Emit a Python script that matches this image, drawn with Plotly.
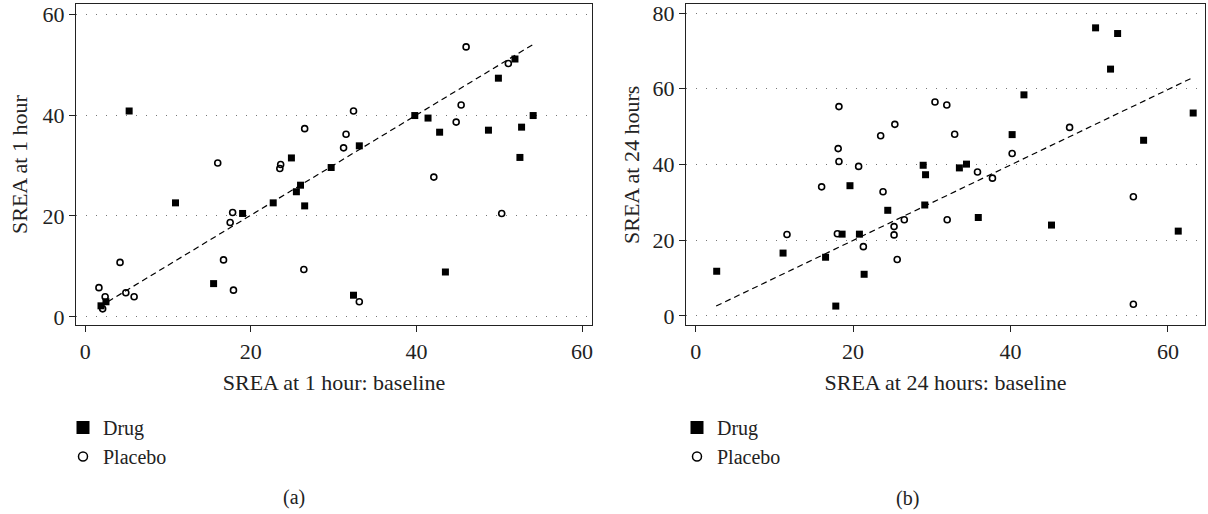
import plotly.graph_objects as go
from plotly.subplots import make_subplots

# Panel (a): SREA at 1 hour
a_drug_x = [5.3, 10.9, 19.0, 22.7, 24.9, 25.5, 26.0, 26.5, 29.7, 15.5, 1.9, 2.5, 33.1, 32.4,
            39.8, 41.4, 42.8, 43.5, 48.7, 49.9, 51.9, 52.7, 52.5, 54.1]
a_drug_y = [40.8, 22.6, 20.5, 22.6, 31.5, 24.8, 26.1, 22.0, 29.6, 6.6, 2.2, 3.0, 33.9, 4.3,
            39.9, 39.4, 36.6, 8.9, 37.0, 47.3, 51.1, 37.6, 31.6, 39.9]
a_plac_x = [1.65, 2.4, 2.1, 4.2, 4.9, 5.9, 16.0, 16.7, 17.5, 17.8, 17.9, 23.5, 23.6, 26.5, 26.4,
            32.4, 31.5, 31.2, 33.1, 42.1, 44.8, 45.4, 46.0, 51.1, 50.3]
a_plac_y = [5.8, 4.0, 1.6, 10.8, 4.8, 4.0, 30.5, 11.3, 18.7, 20.7, 5.3, 29.4, 30.2, 37.3, 9.4,
            40.8, 36.2, 33.5, 3.0, 27.7, 38.6, 42.0, 53.5, 50.2, 20.5]
a_fit_x = [1.7, 54.2]
a_fit_y = [2.0, 54.1]

# Panel (b): SREA at 24 hours
b_drug_x = [2.67, 11.1, 16.5, 17.8, 18.6, 19.6, 20.8, 21.4, 24.4, 28.9, 29.2, 29.1, 33.5, 34.4,
            35.9, 40.2, 41.7, 45.2, 50.8, 53.6, 52.7, 56.9, 61.3, 63.2]
b_drug_y = [11.8, 16.6, 15.5, 2.6, 21.6, 34.4, 21.6, 11.0, 27.9, 39.8, 37.3, 29.3, 39.1, 40.1,
            26.0, 47.9, 58.4, 24.0, 76.1, 74.6, 65.2, 46.4, 22.4, 53.6]
b_plac_x = [11.6, 16.0, 18.0, 18.2, 18.1, 18.2, 20.7, 21.3, 23.5, 23.8, 25.3, 25.2, 25.2, 25.6,
            26.5, 30.4, 31.9, 31.95, 32.9, 35.8, 37.7, 40.2, 47.5, 55.6, 55.6]
b_plac_y = [21.5, 34.1, 21.7, 55.3, 44.2, 40.8, 39.5, 18.3, 47.6, 32.8, 50.6, 23.6, 21.4, 14.9,
            25.4, 56.5, 55.7, 25.4, 48.0, 38.0, 36.4, 42.9, 49.8, 31.5, 3.1]
b_fit_x = [2.6, 63.2]
b_fit_y = [2.6, 63.0]

a_ticks = [0, 20, 40, 60]
b_yticks = [0, 20, 40, 60, 80]
b_xticks = [0, 20, 40, 60]

FONT = "Liberation Serif"
FS = 22
LFS = 20
INK = "#222"
W, H = 1208, 514
ML, MR, MT, MB = 76, 3, 4, 189
PW, PH = W - ML - MR, H - MT - MB


def px_to_paper(px, py):
    return (px - ML) / PW, (H - MB - py) / PH


fig = make_subplots(rows=1, cols=2, horizontal_spacing=0.083)

drug_m = dict(symbol="square", size=7, color="black")
plac_m = dict(symbol="circle-open", size=6, color="black", line=dict(width=1.6, color="black"))

for col, (dx, dy, px, py, fx, fy, leg) in enumerate([
        (a_drug_x, a_drug_y, a_plac_x, a_plac_y, a_fit_x, a_fit_y, "legend"),
        (b_drug_x, b_drug_y, b_plac_x, b_plac_y, b_fit_x, b_fit_y, "legend2")], start=1):
    fig.add_trace(go.Scatter(x=fx, y=fy, mode="lines", showlegend=False, hoverinfo="skip",
                             line=dict(color="black", width=1.2, dash="6px,4px")), row=1, col=col)
    fig.add_trace(go.Scatter(x=dx, y=dy, mode="markers", marker=drug_m, showlegend=False), row=1, col=col)
    fig.add_trace(go.Scatter(x=px, y=py, mode="markers", marker=plac_m, showlegend=False), row=1, col=col)
    # legend entries
    fig.add_trace(go.Scatter(x=[None], y=[None], mode="markers", name="Drug", legend=leg,
                             marker=dict(symbol="square", size=13, color="black")), row=1, col=col)
    fig.add_trace(go.Scatter(x=[None], y=[None], mode="markers", name="Placebo", legend=leg,
                             marker=dict(symbol="circle-open", size=9, color="black",
                                         line=dict(width=1.5, color="black"))), row=1, col=col)

axis_common = dict(showline=True, mirror=True, linecolor=INK, linewidth=1.3,
                   ticks="outside", ticklen=6, tickcolor=INK, tickwidth=1.3,
                   zeroline=False, automargin=False,
                   tickfont=dict(family=FONT, size=FS, color=INK),
                   title_font=dict(family=FONT, size=FS, color=INK))

fig.update_xaxes(axis_common, showgrid=False)
fig.update_yaxes(axis_common, showgrid=True, gridcolor="#777", gridwidth=1, griddash="1px,9px")

fig.update_xaxes(range=[-1.12, 61.2], tickvals=a_ticks, title_text="SREA at 1 hour: baseline",
                 title_standoff=12, domain=[0, 0.457], row=1, col=1)
fig.update_yaxes(range=[-1.6, 62], tickvals=a_ticks, row=1, col=1)
fig.update_xaxes(range=[-1.23, 64.7], tickvals=b_xticks, title_text="SREA at 24 hours: baseline",
                 title_standoff=12, domain=[0.5403, 1.0], row=1, col=2)
fig.update_yaxes(range=[-2.4, 82.4], tickvals=b_yticks, row=1, col=2)

leg_common = dict(font=dict(family=FONT, size=LFS, color=INK), bgcolor="rgba(0,0,0,0)",
                  xanchor="left", yanchor="top", tracegroupgap=0, itemsizing="trace",
                  xref="container", yref="container")

ax_, ay_ = px_to_paper(294, 497)
bx_, by_ = px_to_paper(907, 499)
yt_a = px_to_paper(20, 165)
yt_b = px_to_paper(632, 165)

ann_common = dict(xref="paper", yref="paper", showarrow=False, xanchor="center", yanchor="middle")

fig.update_layout(
    width=W, height=H,
    margin=dict(l=ML, r=MR, t=MT, b=MB, autoexpand=False),
    paper_bgcolor="white", plot_bgcolor="white",
    font=dict(family=FONT, size=FS, color=INK),
    legend=dict(leg_common, x=63 / W, y=1 - 408 / H),
    legend2=dict(leg_common, x=677 / W, y=1 - 408 / H),
    annotations=[
        dict(ann_common, text="SREA at 1 hour", x=yt_a[0], y=yt_a[1], textangle=-90,
             font=dict(family=FONT, size=FS, color=INK)),
        dict(ann_common, text="SREA at 24 hours", x=yt_b[0], y=yt_b[1], textangle=-90,
             font=dict(family=FONT, size=FS, color=INK)),
        dict(ann_common, text="(a)", x=ax_, y=ay_, font=dict(family=FONT, size=20, color=INK)),
        dict(ann_common, text="(b)", x=bx_, y=by_, font=dict(family=FONT, size=20, color=INK)),
    ],
)

fig.write_html("out.html", config={"displayModeBar": False},
               post_script="document.body.style.margin='0';document.body.style.padding='0';")
